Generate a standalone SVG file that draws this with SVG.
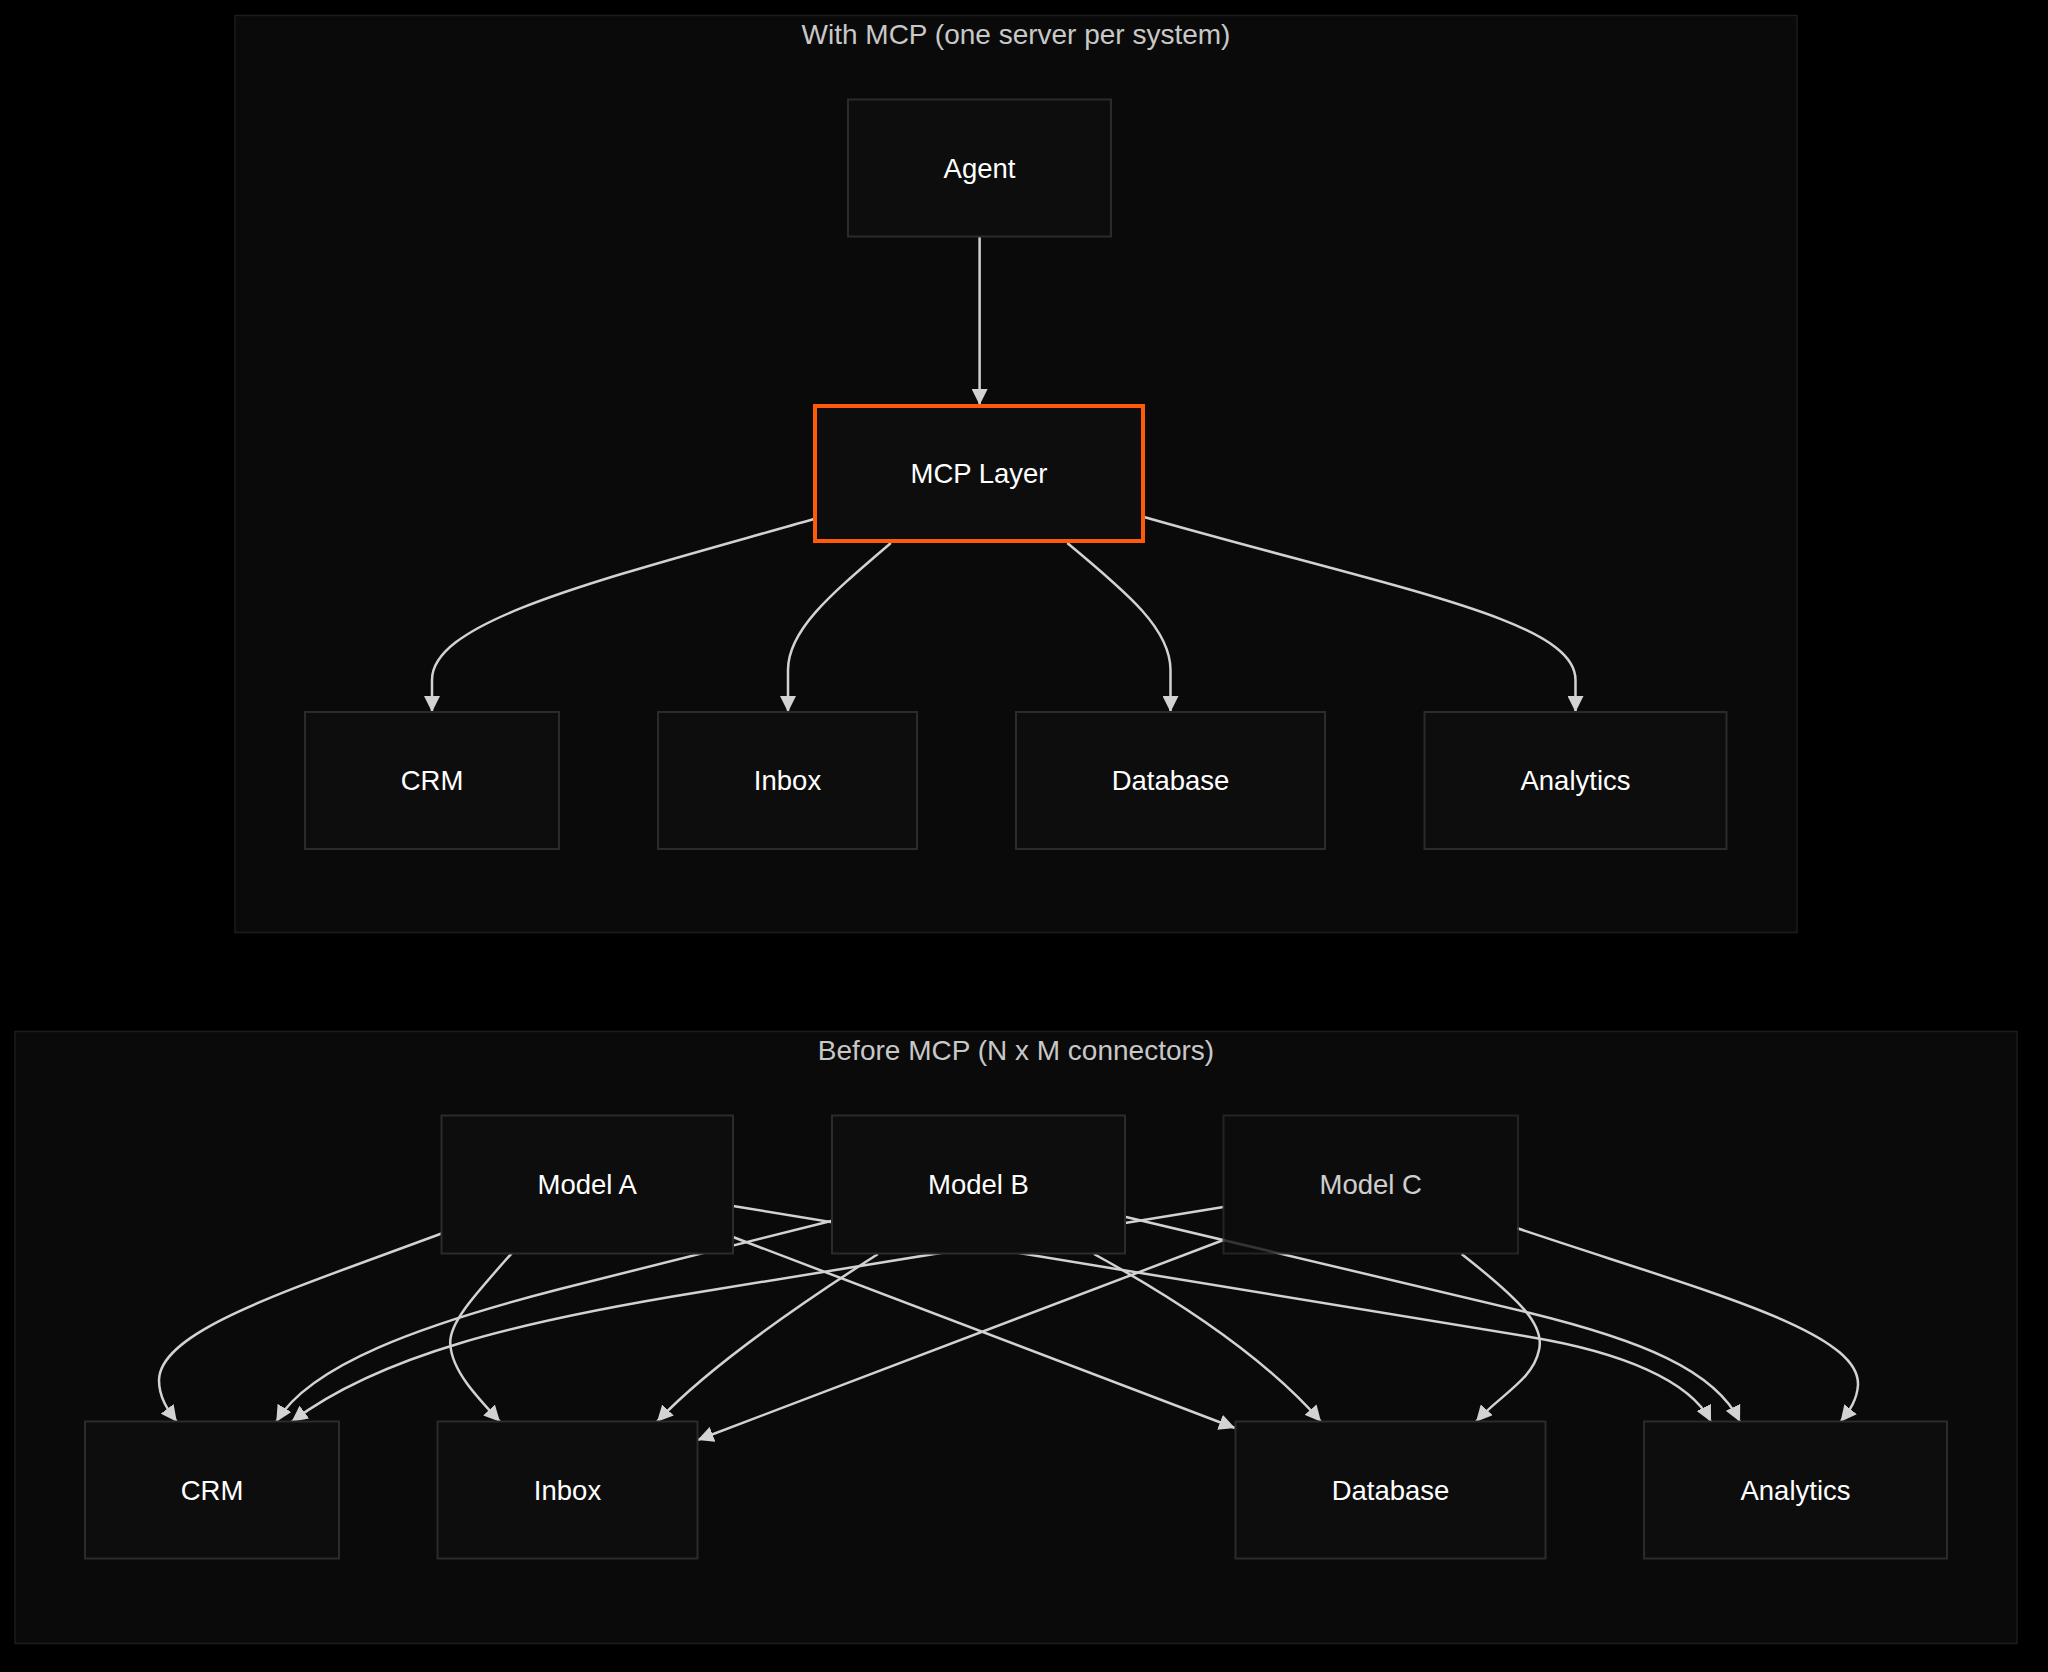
<svg xmlns="http://www.w3.org/2000/svg" width="2048" height="1672" viewBox="0 0 2048 1672">
<style>
.cluster{fill:#0a0a0a;stroke:#1c1c1c;stroke-width:1.5}
.ctitle{font-family:"Liberation Sans",Arial,sans-serif;font-size:28px;fill:#c8c8c8;text-anchor:middle}
.node rect{fill:#0d0d0d;stroke:#2b2b2b;stroke-width:2}
.node text{font-family:"Liberation Sans",Arial,sans-serif;font-size:27.5px;fill:#ffffff;text-anchor:middle}
.node.hl rect{stroke:#ff5a0a;stroke-width:4}
.edge{fill:none;stroke:#d2d2d2;stroke-width:2.5;marker-end:url(#arrow)}
</style>
<defs>
<marker id="arrow" viewBox="0 0 16 16" refX="16" refY="8" markerWidth="16" markerHeight="16" markerUnits="userSpaceOnUse" orient="auto">
<path d="M0,0 L16,8 L0,16 z" fill="#d2d2d2"/>
</marker>
</defs>
<rect x="0" y="0" width="2048" height="1672" fill="#000000"/>

<g id="cluster-with">
<rect class="cluster" x="235" y="15.5" width="1562" height="917"/>
<text class="ctitle" x="1016" y="44">With MCP (one server per system)</text>
</g>
<g id="cluster-before">
<rect class="cluster" x="15" y="1031.5" width="2002" height="612"/>
<text class="ctitle" x="1016" y="1060">Before MCP (N x M connectors)</text>
</g>

<g id="connectors">
<path class="edge" d="M979.6,237 L979.6,405"/>
<path class="edge" d="M814,519 C600,580 432,620 432,680 L432,712"/>
<path class="edge" d="M890.8,543 C830,595 788,630 788,670 L788,712"/>
<path class="edge" d="M1067.3,543 C1130,595 1170.5,630 1170.5,670 L1170.5,712"/>
<path class="edge" d="M1144,517 C1400,590 1575.5,620 1575.5,680 L1575.5,712"/>

<path class="edge" d="M441.5,1233.5 C290,1290 160,1330 159,1380 C159,1398 168,1410 176.8,1421.7"/>
<path class="edge" d="M511.7,1253.3 C470,1300 448,1325 450.4,1345 C452,1370 475,1395 500,1421.7"/>
<path class="edge" d="M733,1237 L1235,1428"/>
<path class="edge" d="M733,1206 L1530,1337 C1620,1352 1690,1380 1711,1421.7"/>

<path class="edge" d="M832,1220.7 L560,1289 C420,1325 310,1365 276.3,1421.7"/>
<path class="edge" d="M878,1254 Q720,1355 657,1421.7"/>
<path class="edge" d="M1094,1254 Q1250,1340 1321,1421.7"/>
<path class="edge" d="M1125,1216.7 L1530,1313 C1640,1340 1715,1370 1740,1421.7"/>

<path class="edge" d="M1223.5,1207 L700,1292 C520,1321 380,1355 291.6,1421.7"/>
<path class="edge" d="M1223.5,1240 L697.6,1440"/>
<path class="edge" d="M1461.6,1254 C1520,1300 1545,1325 1539,1350 C1533,1380 1500,1395 1476,1421.7"/>
<path class="edge" d="M1517.3,1228.3 C1700,1290 1860,1330 1858,1385 C1857,1400 1850,1410 1840.5,1421.7"/>
</g>

<g id="agent" class="node"><rect x="848" y="99.5" width="263" height="137"/><text x="979.5" y="178">Agent</text></g>
<g id="mcp-layer" class="node hl"><rect x="815" y="406" width="328" height="135"/><text x="979" y="483">MCP Layer</text></g>
<g id="crm-top" class="node"><rect x="305" y="712" width="254" height="137"/><text x="432" y="790">CRM</text></g>
<g id="inbox-top" class="node"><rect x="658" y="712" width="259" height="137"/><text x="787.5" y="790">Inbox</text></g>
<g id="database-top" class="node"><rect x="1016" y="712" width="309" height="137"/><text x="1170.5" y="790">Database</text></g>
<g id="analytics-top" class="node"><rect x="1424.5" y="712" width="302" height="137"/><text x="1575.5" y="790">Analytics</text></g>

<g id="model-a" class="node"><rect x="441.5" y="1115.5" width="291.5" height="138"/><text x="587.25" y="1194">Model A</text></g>
<g id="model-b" class="node"><rect x="832" y="1115.5" width="293" height="138"/><text x="978.5" y="1194">Model B</text></g>
<g id="model-c" class="node" opacity="0.8"><rect x="1223.5" y="1115.5" width="294.5" height="138"/><text x="1370.75" y="1194">Model C</text></g>
<g id="crm-bottom" class="node"><rect x="85" y="1421.5" width="254" height="137"/><text x="212" y="1500">CRM</text></g>
<g id="inbox-bottom" class="node"><rect x="437.5" y="1421.5" width="260" height="137"/><text x="567.5" y="1500">Inbox</text></g>
<g id="database-bottom" class="node"><rect x="1235.5" y="1421.5" width="310" height="137"/><text x="1390.5" y="1500">Database</text></g>
<g id="analytics-bottom" class="node"><rect x="1644" y="1421.5" width="303" height="137"/><text x="1795.5" y="1500">Analytics</text></g>
</svg>
